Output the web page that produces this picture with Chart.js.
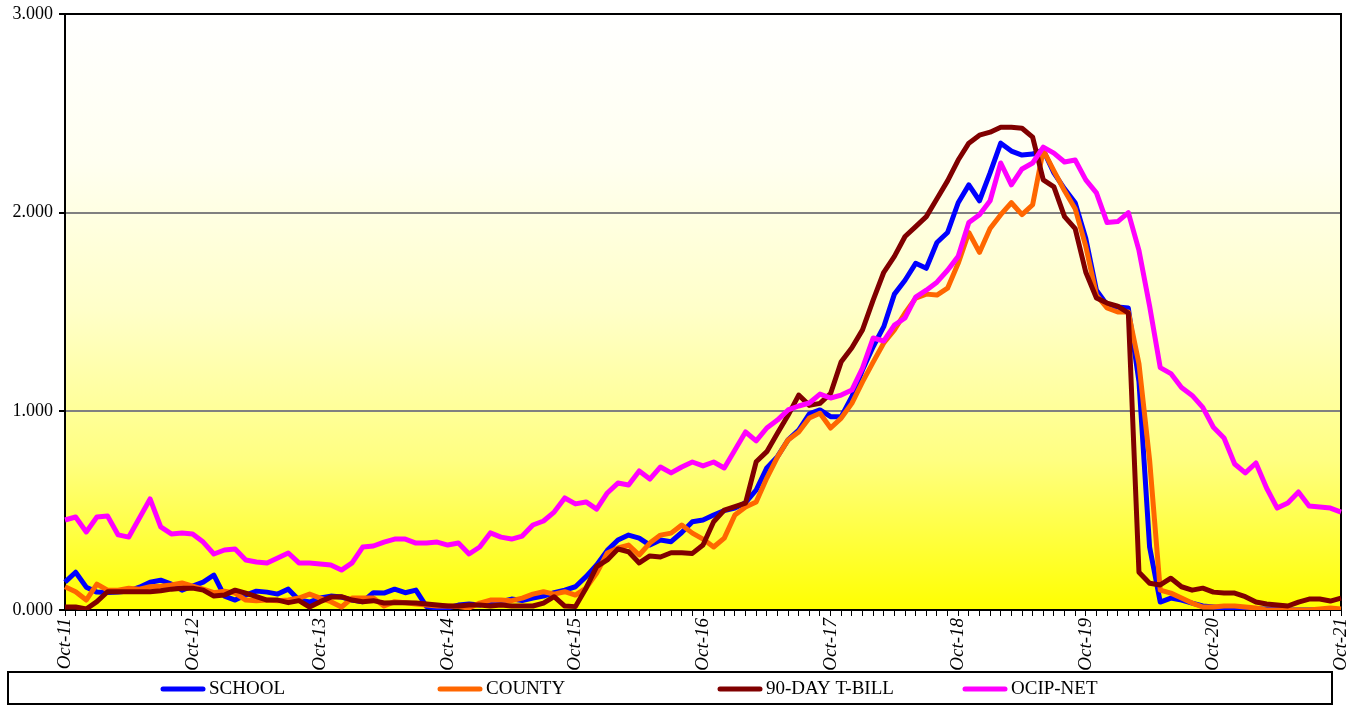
<!DOCTYPE html>
<html>
<head>
<meta charset="utf-8">
<script src="https://cdn.jsdelivr.net/npm/chart.js@4.4.1/dist/chart.umd.min.js"></script>
<style>
  body { margin: 0; background: #fff; }
  canvas { display: block; }
</style>
</head>
<body>
<canvas id="chart" width="1358" height="706"></canvas>
<script>
// monthly, Oct-11 .. Oct-21
var monthNames = ['Oct', 'Nov', 'Dec', 'Jan', 'Feb', 'Mar', 'Apr', 'May', 'Jun', 'Jul', 'Aug', 'Sep'];
var firstYear = 11;
var months = [];
for (var i = 0; i <= 120; i++) {
    var yr = firstYear + Math.floor((i + 2) / 12);
    months.push(monthNames[i % 12] + '-' + yr);
}

var yTicks = [0, 1, 2, 3];

var school = [
    0.14, 0.19, 0.115, 0.09, 0.088, 0.09, 0.095, 0.115, 0.14, 0.15,
    0.13, 0.10, 0.12, 0.14, 0.176, 0.07, 0.05, 0.075, 0.095, 0.09,
    0.08, 0.105, 0.05, 0.04, 0.06, 0.07, 0.065, 0.05, 0.042, 0.087,
    0.085, 0.105, 0.087, 0.10, 0.017, 0.01, 0.01, 0.025, 0.03, 0.025,
    0.042, 0.042, 0.055, 0.048, 0.06, 0.07, 0.087, 0.10, 0.117, 0.168,
    0.227, 0.30, 0.352, 0.377, 0.362, 0.327, 0.352, 0.344, 0.39, 0.444,
    0.453, 0.478, 0.50, 0.513, 0.54, 0.604, 0.715, 0.772, 0.856, 0.906,
    0.987, 1.007, 0.973, 0.973, 1.074, 1.208, 1.325, 1.426, 1.59, 1.66,
    1.745, 1.72, 1.85, 1.90, 2.05, 2.14, 2.06, 2.20, 2.35, 2.31,
    2.29, 2.295, 2.315, 2.20, 2.12, 2.05, 1.87, 1.61, 1.535, 1.525,
    1.52, 1.15, 0.317, 0.04, 0.06, 0.05, 0.035, 0.02, 0.015, 0.01,
    0.01, 0.005, 0.005, 0.005, 0.005, 0, 0, 0, 0, 0,
    0
];
var county = [
    0.117, 0.092, 0.05, 0.13, 0.10, 0.10, 0.11, 0.105, 0.117, 0.12,
    0.126, 0.136, 0.12, 0.105, 0.087, 0.095, 0.085, 0.05, 0.047, 0.05,
    0.047, 0.05, 0.06, 0.08, 0.06, 0.042, 0.015, 0.06, 0.06, 0.06,
    0.02, 0.042, 0.037, 0.03, 0.025, 0.02, 0.02, 0.017, 0.01, 0.035,
    0.05, 0.05, 0.047, 0.06, 0.08, 0.092, 0.08, 0.092, 0.075, 0.11,
    0.186, 0.287, 0.312, 0.327, 0.277, 0.337, 0.377, 0.387, 0.428, 0.387,
    0.357, 0.317, 0.362, 0.478, 0.518, 0.544, 0.664, 0.77, 0.856, 0.896,
    0.966, 0.99, 0.916, 0.966, 1.04, 1.148, 1.248, 1.344, 1.41, 1.495,
    1.57, 1.59, 1.585, 1.62, 1.745, 1.90, 1.80, 1.92, 1.99, 2.05,
    1.99, 2.04, 2.315, 2.21, 2.11, 2.02, 1.83, 1.585, 1.52, 1.50,
    1.50, 1.24, 0.755, 0.10, 0.085, 0.06, 0.035, 0.015, 0.015, 0.02,
    0.02, 0.015, 0.01, 0, 0, 0, 0, 0, 0.005, 0.01,
    0.005
];
var tbill = [
    0.015, 0.015, 0.005, 0.042, 0.092, 0.092, 0.092, 0.092, 0.092, 0.097,
    0.105, 0.11, 0.11, 0.10, 0.07, 0.075, 0.10, 0.085, 0.067, 0.05,
    0.05, 0.037, 0.047, 0.015, 0.042, 0.065, 0.067, 0.05, 0.042, 0.047,
    0.035, 0.037, 0.037, 0.035, 0.03, 0.025, 0.02, 0.02, 0.025, 0.025,
    0.02, 0.025, 0.02, 0.02, 0.02, 0.035, 0.067, 0.02, 0.017, 0.11,
    0.218, 0.252, 0.307, 0.293, 0.237, 0.272, 0.267, 0.288, 0.288, 0.285,
    0.327, 0.444, 0.503, 0.52, 0.538, 0.746, 0.797, 0.89, 0.98, 1.082,
    1.03, 1.04, 1.09, 1.25, 1.32, 1.41, 1.56, 1.70, 1.78, 1.88,
    1.93, 1.98, 2.07, 2.16, 2.265, 2.35, 2.39, 2.405, 2.43, 2.43,
    2.425, 2.38, 2.165, 2.13, 1.98, 1.92, 1.70, 1.57, 1.545, 1.53,
    1.495, 0.19, 0.135, 0.126, 0.16, 0.117, 0.10, 0.11, 0.09, 0.085,
    0.085, 0.067, 0.04, 0.03, 0.025, 0.02, 0.04, 0.055, 0.055, 0.045,
    0.06
];
var ocip = [
    0.453, 0.468, 0.393, 0.468, 0.473, 0.378, 0.367, 0.463, 0.559, 0.418,
    0.383, 0.388, 0.383, 0.342, 0.282, 0.302, 0.307, 0.252, 0.242, 0.237,
    0.262, 0.287, 0.237, 0.237, 0.232, 0.227, 0.201, 0.237, 0.317, 0.322,
    0.342, 0.357, 0.357, 0.337, 0.337, 0.342, 0.327, 0.337, 0.282, 0.317,
    0.388, 0.367, 0.357, 0.372, 0.428, 0.448, 0.493, 0.564, 0.534, 0.544,
    0.508, 0.589, 0.639, 0.629, 0.700, 0.659, 0.720, 0.690, 0.720, 0.745,
    0.725, 0.745, 0.715, 0.805, 0.896, 0.851, 0.916, 0.956, 1.007, 1.027,
    1.042, 1.087, 1.067, 1.082, 1.107, 1.218, 1.369, 1.354, 1.434, 1.47,
    1.575, 1.61, 1.65, 1.71, 1.78, 1.95, 1.99, 2.06, 2.25, 2.14,
    2.22, 2.25, 2.33, 2.30, 2.255, 2.265, 2.165, 2.10, 1.95, 1.955,
    2.00, 1.81, 1.53, 1.22, 1.19, 1.12, 1.08, 1.02, 0.92, 0.866,
    0.735, 0.69, 0.74, 0.614, 0.513, 0.539, 0.594, 0.523, 0.518, 0.513,
    0.493
];

var seriesNames = ['SCHOOL', 'COUNTY', '90-DAY T-BILL', 'OCIP-NET'];
var seriesColors = ['#0000FF', '#FF6600', '#800000', '#FF00FF'];
var seriesData = [school, county, tbill, ocip];

var serif = "'Liberation Serif', 'Times New Roman', serif";

// white-to-yellow fill behind the plot, plus the black frame
var plotBackground = {
    id: 'plotBackground',
    beforeDatasetsDraw: function (chart) {
        var a = chart.chartArea;
        var ctx = chart.ctx;
        ctx.save();
        var g = ctx.createLinearGradient(0, a.top, 0, a.bottom);
        g.addColorStop(0, '#FFFFFF');
        g.addColorStop(0.25, '#FFFFF0');
        g.addColorStop(0.5, '#FFFFC8');
        g.addColorStop(0.75, '#FFFF80');
        g.addColorStop(1, '#FFFF00');
        ctx.globalCompositeOperation = 'destination-over';
        ctx.fillStyle = g;
        ctx.fillRect(a.left, a.top, a.right - a.left, a.bottom - a.top);
        ctx.globalCompositeOperation = 'source-over';
        ctx.strokeStyle = '#000';
        ctx.lineWidth = 2;
        ctx.beginPath();
        ctx.moveTo(a.left, a.top);
        ctx.lineTo(a.right, a.top);
        ctx.lineTo(a.right, a.bottom);
        ctx.stroke();
        ctx.restore();
    }
};

// boxed legend along the bottom, like the spreadsheet one
var boxLegend = {
    id: 'boxLegend',
    afterDraw: function (chart) {
        var ctx = chart.ctx;
        var itemX = [163, 440, 720, 965];
        var top = 672, bottom = 704, left = 8, right = 1332;
        var mid = (top + bottom) / 2 + 1;
        ctx.save();
        ctx.strokeStyle = '#000';
        ctx.lineWidth = 2;
        ctx.strokeRect(left, top, right - left, bottom - top);
        ctx.font = '19px ' + serif;
        ctx.textBaseline = 'middle';
        ctx.fillStyle = '#000';
        for (var k = 0; k < seriesNames.length; k++) {
            ctx.strokeStyle = seriesColors[k];
            ctx.lineWidth = 5;
            ctx.lineCap = 'round';
            ctx.beginPath();
            ctx.moveTo(itemX[k], mid);
            ctx.lineTo(itemX[k] + 40, mid);
            ctx.stroke();
            ctx.fillText(seriesNames[k], itemX[k] + 46, mid);
        }
        ctx.restore();
    }
};

var datasets = seriesNames.map(function (name, k) {
    return {
        label: name,
        data: seriesData[k],
        borderColor: seriesColors[k],
        backgroundColor: seriesColors[k],
        borderWidth: 5,
        pointRadius: 0,
        tension: 0,
        fill: false,
        borderJoinStyle: 'round',
        order: seriesNames.length - k
    };
});

new Chart(document.getElementById('chart').getContext('2d'), {
    type: 'line',
    data: { labels: months, datasets: datasets },
    options: {
        responsive: false,
        animation: false,
        events: [],
        layout: { padding: { left: 5, right: 17, top: 14, bottom: 34 } },
        plugins: {
            legend: { display: false },
            tooltip: { enabled: false }
        },
        scales: {
            x: {
                offset: false,
                afterFit: function (scale) {
                    scale.height = 62;
                    scale.paddingLeft = 0;
                    scale.paddingRight = 0;
                },
                grid: { drawOnChartArea: false, tickLength: 6, color: '#000', lineWidth: 1 },
                border: { color: '#000', width: 2 },
                ticks: {
                    autoSkip: false,
                    minRotation: 90,
                    maxRotation: 90,
                    padding: 2,
                    color: '#000',
                    font: { family: serif, size: 19, style: 'italic' },
                    callback: function (v, i) { return i % 12 === 0 ? months[i] : ''; }
                }
            },
            y: {
                min: yTicks[0],
                max: yTicks[yTicks.length - 1],
                afterFit: function (scale) {
                    scale.width = 60;
                    scale.paddingTop = 0;
                    scale.paddingBottom = 0;
                },
                afterBuildTicks: function (scale) {
                    scale.ticks = yTicks.map(function (v) { return { value: v }; });
                },
                grid: {
                    color: function (c) { return c.tick && c.tick.value > 0 && c.tick.value < 3 ? '#808080' : '#000'; },
                    lineWidth: 2,
                    tickLength: 6,
                    tickColor: '#000'
                },
                border: { color: '#000', width: 2 },
                ticks: {
                    padding: 6,
                    color: '#000',
                    font: { family: serif, size: 18 },
                    callback: function (v) { return v.toFixed(3); }
                }
            }
        }
    },
    plugins: [plotBackground, boxLegend]
});
</script>
</body>
</html>
